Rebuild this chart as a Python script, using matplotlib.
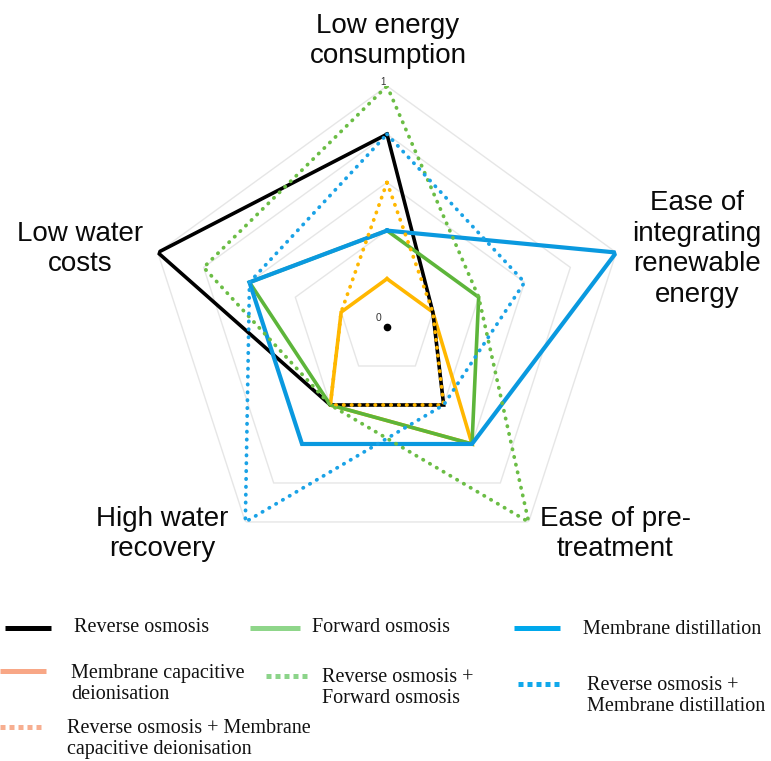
import numpy as np
import matplotlib
matplotlib.use("Agg")
import matplotlib.pyplot as plt
from matplotlib.lines import Line2D

# ---------------- data ----------------
categories = ["Low energy\nconsumption",
              "Ease of\nintegrating\nrenewable\nenergy",
              "Ease of pre-\ntreatment",
              "High water\nrecovery",
              "Low water\ncosts"]
ro = [0.8, 0.2, 0.4, 0.4, 1.0]          # Reverse osmosis
fo = [0.4, 0.4, 0.6, 0.4, 0.6]          # Forward osmosis
md = [0.4, 1.0, 0.6, 0.6, 0.6]          # Membrane distillation
mcdi = [0.2, 0.2, 0.6, 0.4, 0.2]        # Membrane capacitive deionisation
ro_fo = [1.0, 0.4, 1.0, 0.4, 0.8]       # RO + FO
ro_md = [0.8, 0.6, 0.4, 1.0, 0.6]       # RO + MD
ro_mcdi = [0.6, 0.2, 0.4, 0.4, 0.2]     # RO + MCDI
grid_levels = [0.2, 0.4, 0.6, 0.8, 1.0]
tick_labels = ["0", "1"]
legend_labels = ["Reverse osmosis", "Forward osmosis", "Membrane distillation",
                 "Membrane capacitive\ndeionisation",
                 "Reverse osmosis +\nForward osmosis",
                 "Reverse osmosis +\nMembrane distillation",
                 "Reverse osmosis + Membrane\ncapacitive deionisation"]

W, H = 771, 761
fig = plt.figure(figsize=(W / 100, H / 100), dpi=100)
fig.patch.set_facecolor("white")

# polar axes placed so that centre is at (387, 327) px and radius 241 px
cx, cy, R = 387, 327, 241
ax = fig.add_axes([(cx - R) / W, 1 - (cy + R) / H, 2 * R / W, 2 * R / H],
                  projection="polar")
ax.set_theta_zero_location("N")
ax.set_theta_direction(-1)
ax.set_ylim(0, 1)
ax.grid(False)
ax.set_xticks([])
ax.set_yticks([])
ax.spines["polar"].set_visible(False)
ax.patch.set_alpha(0)

n = len(categories)
angles = np.linspace(0, 2 * np.pi, n, endpoint=False)
ang_c = np.concatenate([angles, angles[:1]])

for lv in grid_levels:
    ax.plot(ang_c, [lv] * (n + 1), color="#e6e6e6", lw=1.0, zorder=1)


def closed(v):
    return list(v) + [v[0]]


solid_kw = dict(lw=2.6, solid_joinstyle="miter", zorder=3)
dot_kw = dict(lw=2.7, dashes=(0.1, 2.0), dash_capstyle="round", zorder=4)

ax.plot(ang_c, closed(mcdi), color="#FFB700", **solid_kw)
ax.plot(ang_c, closed(ro), color="#000000", **solid_kw)
ax.plot(ang_c, closed(fo), color="#5DB53A", **solid_kw)
ax.plot(ang_c, closed(md), color="#0A99DF", lw=3.0, solid_joinstyle="miter", zorder=3)
ax.plot(ang_c, closed(ro_mcdi), color="#FFB700", **dot_kw)
ax.plot(ang_c, closed(ro_fo), color="#6BBD45", **dot_kw)
ax.plot(ang_c, closed(ro_md), color="#1AA2E6", **dot_kw)

ax.plot([0], [0], "o", color="black", ms=4.5, zorder=5)


def fx(px):
    return px / W


def fy(py):
    return 1 - py / H


# axis tick labels
fig.text(fx(383), fy(82), tick_labels[1], fontsize=7, color="#333333",
         ha="center", va="center", family="Liberation Sans")
fig.text(fx(379), fy(318), tick_labels[0], fontsize=7.5, color="#333333",
         ha="center", va="center", family="Liberation Sans")

# category labels
lab_kw = dict(fontsize=20, family="Liberation Sans", color="#0a0a0a",
              ha="center", va="center", multialignment="center", linespacing=1.22)
lab_pos = [(388, 41), (697, 249), (615, 534), (162, 534), (80, 249)]
for text, (px, py) in zip(categories, lab_pos):
    fig.text(fx(px), fy(py), text, **lab_kw)

# legend (drawn manually)
leg_handles = [
    dict(x=(5, 51), y=628, color="#000000", dotted=False),
    dict(x=(250, 300), y=628, color="#8FD68A", dotted=False),
    dict(x=(514, 560), y=628, color="#00A8EC", dotted=False),
    dict(x=(0, 46), y=671, color="#F8A786", dotted=False),
    dict(x=(266, 309), y=676, color="#8CD48A", dotted=True),
    dict(x=(518, 561), y=684, color="#10A8EB", dotted=True),
    dict(x=(0, 43), y=727, color="#F7AE90", dotted=True),
]
leg_text_pos = [(74, 628), (312, 628), (583, 629), (71, 684), (322, 688),
                (587, 696), (67, 739)]
for h, lab, (tx, ty) in zip(leg_handles, legend_labels, leg_text_pos):
    kw = dict(color=h["color"], lw=3.6, transform=fig.transFigure)
    if h["dotted"]:
        kw.update(dashes=(1.0, 0.8), dash_capstyle="butt")
    else:
        kw.update(solid_capstyle="butt")
    fig.add_artist(Line2D([fx(h["x"][0]), fx(h["x"][1])], [fy(h["y"]), fy(h["y"])], **kw))
    fig.text(fx(tx), fy(ty), lab, fontsize=14.5, family="Liberation Serif",
             color="#111111", ha="left", va="center", linespacing=1.15)

fig.savefig("out.png", dpi=100, facecolor="white")
